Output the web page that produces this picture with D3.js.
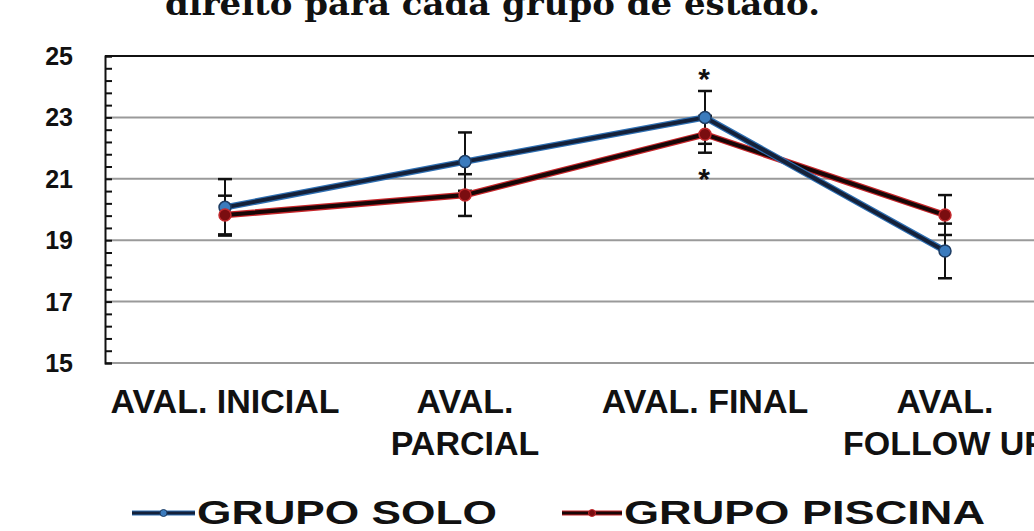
<!DOCTYPE html>
<html>
<head>
<meta charset="utf-8">
<script src="https://cdn.jsdelivr.net/npm/d3@7"></script>
<style>
  html, body { margin: 0; padding: 0; background: #fff; }
  svg { display: block; }
</style>
</head>
<body>
<svg id="chart" width="1034" height="531"></svg>
<script>
// Assessment moments (line breaks mark two-line labels)
const categories = ["AVAL. INICIAL", "AVAL.\nPARCIAL", "AVAL. FINAL", "AVAL.\nFOLLOW UP"];

// Group means and standard deviations
const soloValues = [20.07, 21.56, 23.0, 18.65];
const soloErrors = [0.92, 0.95, 0.86, 0.89];
const piscinaValues = [19.82, 20.47, 22.45, 19.82];
const piscinaErrors = [0.63, 0.68, 0.60, 0.65];

const seriesNames = ["GRUPO SOLO", "GRUPO PISCINA"];
const yTicks = [15, 17, 19, 21, 23, 25];
const yDomain = [15, 25];

// Significance markers: [category index, value position]
const markers = [[2, 24.3], [2, 21.05]];

const titleText = "direito para cada grupo de estado.";

const svg = d3.select("#chart");

const plot = { left: 105, top: 56, right: 1065, bottom: 363 };

const x = d3.scaleBand().domain(categories).range([plot.left, plot.right]).padding(0);
const cx = c => x(c) + x.bandwidth() / 2;
const y = d3.scaleLinear().domain(yDomain).range([plot.bottom, plot.top]);

// Title (upper part falls outside the frame)
svg.append("text")
  .attr("x", 165).attr("y", 14.5)
  .attr("textLength", 655).attr("lengthAdjust", "spacingAndGlyphs")
  .style("font-family", "'DejaVu Serif', serif")
  .style("font-weight", "bold")
  .style("font-size", "32px")
  .attr("fill", "#111")
  .text(titleText);

// Horizontal gridlines
svg.append("g")
  .selectAll("line")
  .data(yTicks.slice(0, -1))
  .join("line")
  .attr("x1", plot.left).attr("x2", plot.right)
  .attr("y1", d => y(d)).attr("y2", d => y(d))
  .attr("stroke", "#9a9a9a").attr("stroke-width", 2);

// Top frame
svg.append("line")
  .attr("x1", plot.left).attr("x2", plot.right)
  .attr("y1", y(25)).attr("y2", y(25))
  .attr("stroke", "#111").attr("stroke-width", 2);

// Left axis with inward minor ticks
const minorTicks = d3.range(0, 26).map(i => 15 + i * 0.4);
const yAxis = d3.axisRight(y).tickValues(minorTicks).tickSize(7).tickFormat("");
const gAxis = svg.append("g").attr("transform", `translate(${plot.left},0)`).call(yAxis);
gAxis.select(".domain").attr("stroke", "#111").attr("stroke-width", 2);
gAxis.selectAll(".tick line").attr("stroke", "#111").attr("stroke-width", 2);

// Y tick labels
svg.append("g")
  .selectAll("text")
  .data(yTicks)
  .join("text")
  .attr("x", 73).attr("y", d => y(d))
  .attr("text-anchor", "end")
  .attr("dominant-baseline", "central")
  .style("font-family", "Arial, 'Liberation Sans', sans-serif")
  .style("font-weight", "bold")
  .style("font-size", "25px")
  .attr("fill", "#111")
  .text(d => d);

// X category labels
const xl = svg.append("g")
  .selectAll("text")
  .data(categories)
  .join("text")
  .attr("x", d => cx(d))
  .attr("y", 413)
  .attr("text-anchor", "middle")
  .style("font-family", "Arial, 'Liberation Sans', sans-serif")
  .style("font-weight", "bold")
  .style("font-size", "34px")
  .attr("fill", "#111");
xl.each(function(d) {
  const t = d3.select(this);
  d.split("\n").forEach((line, i) => {
    t.append("tspan").attr("x", cx(d)).attr("dy", i === 0 ? 0 : 42).text(line);
  });
});

const series = [
  { name: seriesNames[0], values: soloValues, errors: soloErrors, edge: "#2f6fb2", core: "#14213a", fill: "#3b7bbd", ring: "#1d3c63" },
  { name: seriesNames[1], values: piscinaValues, errors: piscinaErrors, edge: "#c6262b", core: "#180606", fill: "#7a0d10", ring: "#c42a2e" }
];

// Error bars
series.forEach(s => {
  const g = svg.append("g");
  s.values.forEach((v, i) => {
    const px = cx(categories[i]);
    const hi = y(v + s.errors[i]), lo = y(v - s.errors[i]);
    g.append("line").attr("x1", px).attr("x2", px).attr("y1", hi).attr("y2", lo)
      .attr("stroke", "#111").attr("stroke-width", 2);
    [hi, lo].forEach(yy => {
      g.append("line").attr("x1", px - 7).attr("x2", px + 7).attr("y1", yy).attr("y2", yy)
        .attr("stroke", "#111").attr("stroke-width", 2.5);
    });
  });
});

// Lines and markers
const line = d3.line().x((d, i) => cx(categories[i])).y(d => y(d));
series.slice().reverse().forEach(s => {
  svg.append("path").attr("d", line(s.values)).attr("fill", "none")
    .attr("stroke", s.edge).attr("stroke-width", 6.5).attr("stroke-linejoin", "round");
  svg.append("path").attr("d", line(s.values)).attr("fill", "none")
    .attr("stroke", s.core).attr("stroke-width", 4).attr("stroke-linejoin", "round");
});
series.forEach(s => {
  svg.append("g").selectAll("circle")
    .data(s.values)
    .join("circle")
    .attr("cx", (d, i) => cx(categories[i]))
    .attr("cy", d => y(d))
    .attr("r", 6)
    .attr("fill", s.fill)
    .attr("stroke", s.ring).attr("stroke-width", 1.5);
});

// Significance asterisks
svg.append("g").selectAll("text")
  .data(markers)
  .join("text")
  .attr("x", d => cx(categories[d[0]]) - 1)
  .attr("y", d => y(d[1]) + 12)
  .attr("text-anchor", "middle")
  .style("font-family", "Arial, 'Liberation Sans', sans-serif")
  .style("font-weight", "bold")
  .style("font-size", "30px")
  .attr("fill", "#111")
  .text("*");

// Legend
const legendItems = [
  { s: series[0], x0: 132, x1: 195, tx: 197, tw: 300 },
  { s: series[1], x0: 562, x1: 622, tx: 624, tw: 361 }
];
const lg = svg.append("g");
legendItems.forEach(it => {
  lg.append("line").attr("x1", it.x0).attr("x2", it.x1).attr("y1", 513).attr("y2", 513)
    .attr("stroke", it.s.edge).attr("stroke-width", 5);
  lg.append("line").attr("x1", it.x0).attr("x2", it.x1).attr("y1", 513).attr("y2", 513)
    .attr("stroke", it.s.core).attr("stroke-width", 3);
  lg.append("circle").attr("cx", (it.x0 + it.x1) / 2).attr("cy", 513).attr("r", 3.5)
    .attr("fill", it.s.fill).attr("stroke", it.s.ring).attr("stroke-width", 1);
  lg.append("text").attr("x", it.tx).attr("y", 524)
    .attr("textLength", it.tw).attr("lengthAdjust", "spacingAndGlyphs")
    .style("font-family", "Arial, 'Liberation Sans', sans-serif")
    .style("font-weight", "bold")
    .style("font-size", "33px")
    .attr("fill", "#111")
    .text(it.s.name);
});
</script>
</body>
</html>
